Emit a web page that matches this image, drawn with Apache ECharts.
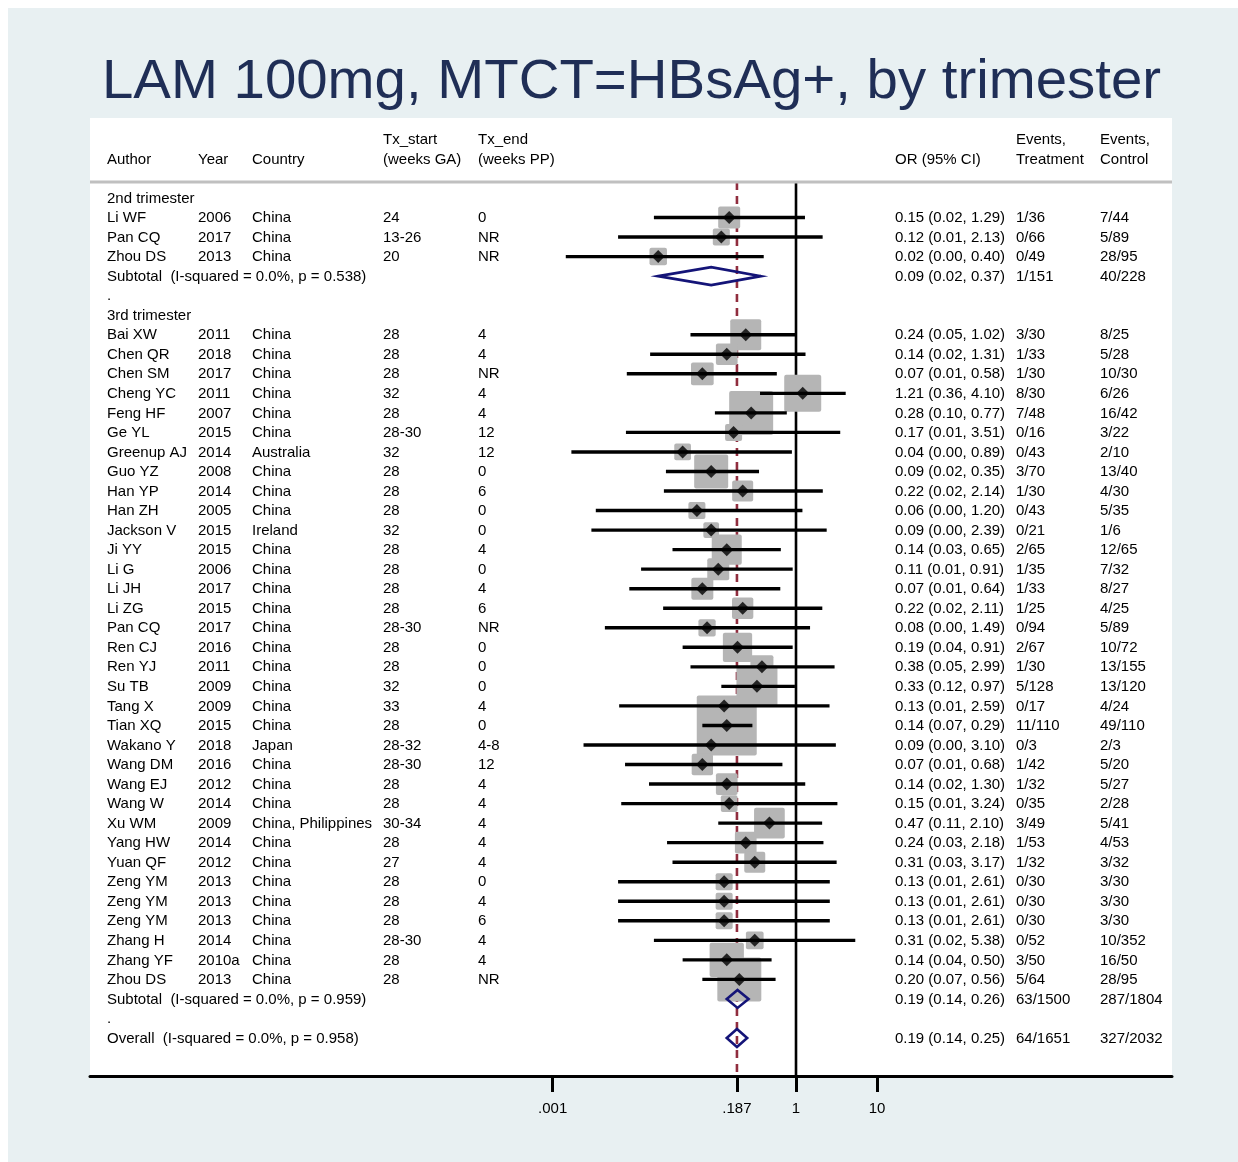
<!DOCTYPE html>
<html>
<head>
<meta charset="utf-8">
<script src="https://cdn.jsdelivr.net/npm/echarts@6/dist/echarts.min.js"></script>
<style>
  html, body { margin: 0; padding: 0; background: #fff; }
  #chart { width: 1238px; height: 1162px; }
</style>
</head>
<body>
<div id="chart"></div>
<script>
// ---- Study data (one entry per study, in display order) ----
const groupLabels = ['2nd trimester', '3rd trimester'];
const groupSizes = [3, 34];

const authors = ['Li WF','Pan CQ','Zhou DS',
  'Bai XW','Chen QR','Chen SM','Cheng YC','Feng HF','Ge YL','Greenup AJ','Guo YZ','Han YP','Han ZH',
  'Jackson V','Ji YY','Li G','Li JH','Li ZG','Pan CQ','Ren CJ','Ren YJ','Su TB','Tang X','Tian XQ',
  'Wakano Y','Wang DM','Wang EJ','Wang W','Xu WM','Yang HW','Yuan QF','Zeng YM','Zeng YM','Zeng YM',
  'Zhang H','Zhang YF','Zhou DS'];
const years = ['2006','2017','2013',
  '2011','2018','2017','2011','2007','2015','2014','2008','2014','2005',
  '2015','2015','2006','2017','2015','2017','2016','2011','2009','2009','2015',
  '2018','2016','2012','2014','2009','2014','2012','2013','2013','2013',
  '2014','2010a','2013'];
const countries = ['China','China','China',
  'China','China','China','China','China','China','Australia','China','China','China',
  'Ireland','China','China','China','China','China','China','China','China','China','China',
  'Japan','China','China','China','China, Philippines','China','China','China','China','China',
  'China','China','China'];
const txStart = ['24','13-26','20',
  '28','28','28','32','28','28-30','32','28','28','28',
  '32','28','28','28','28','28-30','28','28','32','33','28',
  '28-32','28-30','28','28','30-34','28','27','28','28','28',
  '28-30','28','28'];
const txEnd = ['0','NR','NR',
  '4','4','NR','4','4','12','12','0','6','0',
  '0','4','0','4','6','NR','0','0','0','4','0',
  '4-8','12','4','4','4','4','4','0','4','6',
  '4','4','NR'];
const oddsRatio = [0.15,0.12,0.02,
  0.24,0.14,0.07,1.21,0.28,0.17,0.04,0.09,0.22,0.06,
  0.09,0.14,0.11,0.07,0.22,0.08,0.19,0.38,0.33,0.13,0.14,
  0.09,0.07,0.14,0.15,0.47,0.24,0.31,0.13,0.13,0.13,
  0.31,0.14,0.20];
const ciLower = [0.0177,0.0064,0.00145,
  0.05,0.0159,0.0082,0.36,0.10,0.0080,0.0017,0.0249,0.0235,0.0034,
  0.0030,0.03,0.0123,0.0088,0.0230,0.0044,0.04,0.05,0.12,0.0066,0.07,
  0.0024,0.0078,0.0154,0.0070,0.11,0.0257,0.03,0.0064,0.0064,0.0064,
  0.0177,0.04,0.07];
const ciUpper = [1.29,2.13,0.40,
  1.02,1.31,0.58,4.10,0.77,3.51,0.89,0.35,2.14,1.20,
  2.39,0.65,0.91,0.64,2.11,1.49,0.91,2.99,0.97,2.59,0.29,
  3.10,0.68,1.30,3.24,2.10,2.18,3.17,2.61,2.61,2.61,
  5.38,0.50,0.56];
const eventsTreatment = ['1/36','0/66','0/49',
  '3/30','1/33','1/30','8/30','7/48','0/16','0/43','3/70','1/30','0/43',
  '0/21','2/65','1/35','1/33','1/25','0/94','2/67','1/30','5/128','0/17','11/110',
  '0/3','1/42','1/32','0/35','3/49','1/53','1/32','0/30','0/30','0/30',
  '0/52','3/50','5/64'];
const eventsControl = ['7/44','5/89','28/95',
  '8/25','5/28','10/30','6/26','16/42','3/22','2/10','13/40','4/30','5/35',
  '1/6','12/65','7/32','8/27','4/25','5/89','10/72','13/155','13/120','4/24','49/110',
  '2/3','5/20','5/27','2/28','5/41','4/53','3/32','3/30','3/30','3/30',
  '10/352','16/50','28/95'];
// study weights (%), shown as box area
const weights = [1.85,1.11,1.17,
  3.68,1.80,1.97,5.24,7.41,1.11,1.07,4.43,1.69,1.11,
  0.94,3.45,1.85,1.85,1.74,1.14,3.28,2.03,6.44,0.98,13.78,
  0.75,1.74,1.80,1.07,3.61,1.80,1.69,1.11,1.11,1.11,
  1.20,4.50,7.41];

// ---- Pooled estimates ----
const subtotalLabels = ['Subtotal  (I-squared = 0.0%, p = 0.538)', 'Subtotal  (I-squared = 0.0%, p = 0.959)'];
const subtotalOR = [0.09, 0.19];
const subtotalLower = [0.02, 0.14];
const subtotalUpper = [0.37, 0.26];
const subtotalEventsT = ['1/151', '63/1500'];
const subtotalEventsC = ['40/228', '287/1804'];
const overallLabel = 'Overall  (I-squared = 0.0%, p = 0.958)';
const overallOR = 0.187;
const overallLower = 0.14;
const overallUpper = 0.25;
const overallEventsT = '64/1651';
const overallEventsC = '327/2032';

// ---- Axis ----
const tickValues = [0.001, 0.187, 1, 10];
const tickLabels = ['.001', '.187', '1', '10'];

// ---- Layout ----
const FONT = '15px "Liberation Sans", Arial, sans-serif';
const COL_X = { author: 107, year: 198, country: 252, txs: 383, txe: 478, or: 895, evt: 1016, evc: 1100 };
const BOX_UNIT = 16.16;      // px of box side per sqrt(weight %)
const RULE_ROW = -0.82;      // header separator position, in row units
const DIAMOND_HALF = 9;      // px
const TEXT_DY = 0.5;         // baseline nudge for table text, px

const fmtCI = (o, l, u) => o.toFixed(2) + ' (' + l.toFixed(2) + ', ' + u.toFixed(2) + ')';

// Build the table rows and plot items
const tableRows = [];
const studyItems = [];
const pooledItems = [];
tableRows.push({ row: -3, cells: [['txs', 'Tx_start'], ['txe', 'Tx_end'], ['evt', 'Events,'], ['evc', 'Events,']] });
tableRows.push({ row: -2, cells: [['author', 'Author'], ['year', 'Year'], ['country', 'Country'],
  ['txs', '(weeks GA)'], ['txe', '(weeks PP)'], ['or', 'OR (95% CI)'], ['evt', 'Treatment'], ['evc', 'Control']] });

let row = 0;
let idx = 0;
groupLabels.forEach((g, gi) => {
  tableRows.push({ row: row, cells: [['author', g]] });
  row++;
  for (let k = 0; k < groupSizes[gi]; k++, idx++, row++) {
    tableRows.push({ row: row, cells: [
      ['author', authors[idx]], ['year', years[idx]], ['country', countries[idx]],
      ['txs', txStart[idx]], ['txe', txEnd[idx]],
      ['or', fmtCI(oddsRatio[idx], ciLower[idx], ciUpper[idx])],
      ['evt', eventsTreatment[idx]], ['evc', eventsControl[idx]]] });
    studyItems.push({ row: row, or: oddsRatio[idx], lo: ciLower[idx], hi: ciUpper[idx], w: weights[idx] });
  }
  tableRows.push({ row: row, cells: [['author', subtotalLabels[gi]],
    ['or', fmtCI(subtotalOR[gi], subtotalLower[gi], subtotalUpper[gi])],
    ['evt', subtotalEventsT[gi]], ['evc', subtotalEventsC[gi]]] });
  pooledItems.push({ row: row, or: subtotalOR[gi], lo: subtotalLower[gi], hi: subtotalUpper[gi] });
  row++;
  tableRows.push({ row: row, cells: [['author', '.']] });
  row++;
});
tableRows.push({ row: row, cells: [['author', overallLabel],
  ['or', fmtCI(overallOR, overallLower, overallUpper)],
  ['evt', overallEventsT], ['evc', overallEventsC]] });
pooledItems.push({ row: row, or: overallOR, lo: overallLower, hi: overallUpper });

const chart = echarts.init(document.getElementById('chart'), null, { renderer: 'canvas' });

const option = {
  animation: false,
  backgroundColor: '#ffffff',
  graphic: [
    { type: 'rect', z: -10, silent: true, shape: { x: 8, y: 8, width: 1230, height: 1154 }, style: { fill: '#e8f0f2' } },
    { type: 'text', z: 10, silent: true, x: 631.5, y: 82,
      style: { text: 'LAM 100mg, MTCT=HBsAg+, by trimester', font: '56.4px "Liberation Sans", Arial, sans-serif',
        fill: '#1f2e56', align: 'center', verticalAlign: 'middle' } }
  ],
  grid: { left: 90, top: 118, right: 66, bottom: 86, show: true, backgroundColor: '#ffffff', borderWidth: 0, containLabel: false },
  xAxis: {
    type: 'log',
    logBase: 10,
    min: Math.pow(10, -8.705),
    max: Math.pow(10, 4.636),
    axisLine: { show: true, onZero: false, lineStyle: { color: '#000', width: 3 } },
    axisTick: { show: true, length: 16, lineStyle: { color: '#000', width: 3 }, customValues: tickValues },
    axisLabel: {
      show: true, customValues: tickValues, margin: 25, color: '#000',
      fontFamily: '"Liberation Sans", Arial, sans-serif', fontSize: 15,
      formatter: (v) => {
        let best = 0;
        tickValues.forEach((t, i) => { if (Math.abs(Math.log10(t) - Math.log10(v)) < Math.abs(Math.log10(tickValues[best]) - Math.log10(v))) best = i; });
        return tickLabels[best];
      }
    },
    splitLine: { show: false },
    minorTick: { show: false }
  },
  yAxis: {
    type: 'value',
    inverse: true,
    min: -4.095,
    max: 44.945,
    show: false
  },
  series: [
    // reference lines: null effect (OR = 1) and overall estimate
    {
      type: 'custom', silent: true, z: 1,
      data: [[1, RULE_ROW], [overallOR, RULE_ROW]],
      renderItem: (params, api) => {
        const top = api.coord([api.value(0), api.value(1)]);
        const cs = params.coordSys;
        const dashed = params.dataIndex === 1;
        return {
          type: 'line',
          shape: { x1: top[0], y1: top[1], x2: top[0], y2: cs.y + cs.height },
          style: dashed ? { stroke: '#902d3e', lineWidth: 2.6, lineDash: [8, 6] }
                        : { stroke: '#000', lineWidth: 2.6 }
        };
      }
    },
    // header separator
    {
      type: 'custom', silent: true, z: 1,
      data: [[1, RULE_ROW]],
      renderItem: (params, api) => {
        const y = api.coord([1, api.value(1)])[1];
        const cs = params.coordSys;
        return { type: 'line', shape: { x1: cs.x, y1: y, x2: cs.x + cs.width, y2: y },
          style: { stroke: '#c0c0c0', lineWidth: 3 } };
      }
    },
    // weight boxes
    {
      type: 'custom', silent: true, z: 2,
      data: studyItems.map(s => [s.or, s.row, s.w]),
      renderItem: (params, api) => {
        const c = api.coord([api.value(0), api.value(1)]);
        const side = BOX_UNIT * Math.sqrt(api.value(2));
        return { type: 'rect', shape: { x: c[0] - side / 2, y: c[1] - side / 2, width: side, height: side, r: 2 },
          style: { fill: '#b5b5b5' } };
      }
    },
    // confidence intervals
    {
      type: 'custom', silent: true, z: 3,
      data: studyItems.map(s => [s.lo, s.row, s.hi]),
      renderItem: (params, api) => {
        const a = api.coord([api.value(0), api.value(1)]);
        const b = api.coord([api.value(2), api.value(1)]);
        return { type: 'line', shape: { x1: a[0], y1: a[1], x2: b[0], y2: b[1] },
          style: { stroke: '#000', lineWidth: 3.4 } };
      }
    },
    // point estimates
    {
      type: 'scatter', silent: true, z: 4,
      symbol: 'diamond', symbolSize: 13,
      itemStyle: { color: '#000' },
      data: studyItems.map(s => [s.or, s.row])
    },
    // pooled diamonds
    {
      type: 'custom', silent: true, z: 5,
      data: pooledItems.map(p => [p.or, p.row, p.lo, p.hi]),
      renderItem: (params, api) => {
        const c = api.coord([api.value(0), api.value(1)]);
        const l = api.coord([api.value(2), api.value(1)]);
        const h = api.coord([api.value(3), api.value(1)]);
        return { type: 'polygon',
          shape: { points: [[l[0], c[1]], [c[0], c[1] - DIAMOND_HALF], [h[0], c[1]], [c[0], c[1] + DIAMOND_HALF]] },
          style: { fill: null, stroke: '#141478', lineWidth: 2.6, lineJoin: 'miter' } };
      }
    },
    // table text
    {
      type: 'custom', silent: true, z: 6,
      data: tableRows.map(r => [1, r.row]),
      renderItem: (params, api) => {
        const r = tableRows[params.dataIndex];
        const y = api.coord([1, api.value(1)])[1] + TEXT_DY;
        return {
          type: 'group',
          children: r.cells.map(c => ({
            type: 'text',
            style: { x: COL_X[c[0]], y: y, text: c[1], font: FONT, fill: '#000', align: 'left', verticalAlign: 'middle' }
          }))
        };
      }
    }
  ]
};

chart.setOption(option);
</script>
</body>
</html>
